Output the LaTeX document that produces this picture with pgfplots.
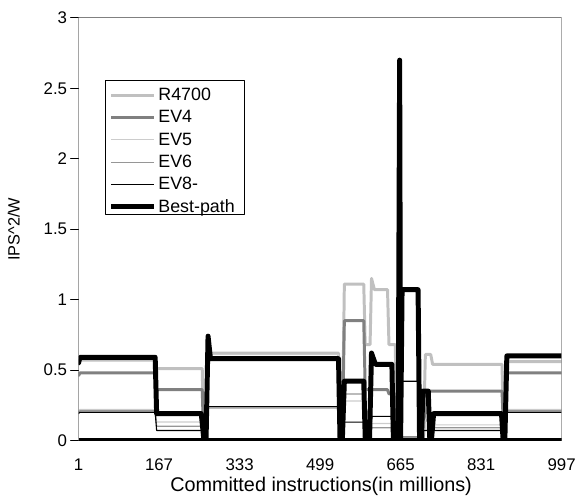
\documentclass[border=0pt]{standalone}
\usepackage{fontspec}
\setmainfont{Liberation Sans}
\usepackage{pgfplots}
\pgfplotsset{compat=1.18}
\definecolor{cR}{RGB}{192,192,192}
\definecolor{cEVf}{RGB}{128,128,128}
\definecolor{cEVv}{RGB}{204,204,204}
\definecolor{cEVs}{RGB}{150,150,150}
\definecolor{frame}{RGB}{128,128,128}
\begin{document}
\begin{tikzpicture}
\begin{axis}[
  name=ax,
  scale only axis, width=486bp, height=425bp,
  xmin=1, xmax=997, ymin=0, ymax=3,
  xtick={1,167,333,499,665,831,997},
  ytick={0,0.5,1,1.5,2,2.5,3},
  axis line style={draw=none},
  xtick pos=bottom, ytick pos=left,
  tick align=outside,
  x tick style={draw=none},
  y tick style={black, line width=0.8bp},
  major tick length=8bp,
  /pgf/number format/assume math mode=true,
  tick label style={font=\fontsize{17}{17}\selectfont},
  xticklabel style={yshift=-7bp},
  xlabel={Committed instructions(in millions)},
  xlabel style={at={(axis description cs:0.502,-0.108)}, anchor=center, font=\fontsize{20}{20}\selectfont},
  ylabel={IPS\textasciicircum 2/W},
  ylabel style={at={(axis description cs:-0.134,0.5)}, anchor=center, font=\fontsize{16.5}{16.5}\selectfont},
  legend style={at={(0.058,0.843)}, anchor=north west, draw=none, fill=none,
    font=\fontsize{18}{18}\selectfont, inner sep=2bp, row sep=5bp,
    cells={anchor=west, inner sep=0pt, text height=12bp, text depth=4bp}},
  legend cell align=left,
  legend image code/.code={\draw[#1] (0bp,0bp) -- (43bp,0bp);},
  line join=round, line cap=round,
]
\addplot[cR, line width=3bp] coordinates {
(1,0.55) (4,0.57) (159,0.57) (162,0.51) (256,0.51) (259,0.02) (264,0.02) (268,0.62)
(537,0.62) (540,0.05) (545,0.05) (549,1.11) (589,1.11) (592,0.68) (602,0.68) (605,1.15)
(611,1.07) (638,1.07) (641,0.68) (654,0.68) (657,0.02) (712,0.02) (716,0.61) (727,0.61)
(731,0.54) (874,0.54) (877,0.1) (880,0.1) (884,0.56) (997,0.56)};
\addlegendentry{R4700}
\addplot[cEVf, line width=3bp] coordinates {
(1,0.46) (4,0.48) (159,0.48) (162,0.36) (256,0.36) (259,0.02) (264,0.02) (268,0.58)
(537,0.58) (540,0.05) (545,0.05) (549,0.85) (589,0.85) (592,0.36) (638,0.36) (641,0.33)
(654,0.33) (657,0.02) (712,0.02) (716,0.35) (874,0.35) (877,0.1) (880,0.1) (884,0.48) (997,0.48)};
\addlegendentry{EV4}
\addplot[cEVv, line width=1.2bp] coordinates {
(1,0.21) (4,0.22) (159,0.22) (162,0.13) (256,0.13) (259,0.02) (264,0.02) (268,0.61)
(537,0.61) (540,0.05) (545,0.05) (549,0.28) (589,0.28) (592,0.12) (654,0.12) (657,0.02)
(712,0.02) (716,0.15) (731,0.11) (874,0.11) (877,0.1) (884,0.22) (997,0.22)};
\addlegendentry{EV5}
\addplot[cEVs, line width=1.2bp] coordinates {
(1,0.2) (4,0.21) (159,0.21) (162,0.1) (256,0.1) (259,0.02) (264,0.02) (268,0.23)
(537,0.23) (540,0.05) (549,0.33) (589,0.33) (592,0.09) (654,0.09) (657,0.02) (712,0.02)
(716,0.3) (731,0.09) (874,0.09) (877,0.08) (884,0.21) (997,0.21)};
\addlegendentry{EV6}
\addplot[black, line width=1.1bp] coordinates {
(1,0.19) (4,0.2) (159,0.2) (162,0.07) (258,0.07) (262,0.24) (537,0.24) (541,0.13)
(589,0.13) (592,0.07) (603,0.07) (606,0.17) (647,0.17) (650,0.05) (666,0.05) (668,0.42)
(701,0.42) (704,0.07) (874,0.07) (878,0.2) (997,0.2)};
\addlegendentry{EV8-}
\addplot[black, line width=5bp] coordinates {
(1,0.55) (4,0.59) (159,0.59) (162,0.19) (254,0.19) (259,0.02) (264,0.02) (268,0.74)
(273,0.58) (537,0.58) (540,0.02) (545,0.02) (549,0.42) (589,0.42) (592,0.02) (601,0.02)
(605,0.62) (613,0.54) (647,0.54) (650,0.02) (660,0.02) (663,2.7) (665,0.02) (668,1.07)
(701,1.07) (704,0.02) (708,0.02) (711,0.35) (722,0.35) (725,0.02) (729,0.02) (733,0.19)
(873,0.19) (876,0.02) (880,0.02) (884,0.6) (997,0.6)};
\addlegendentry{Best-path}
\draw[frame, line width=1bp] (rel axis cs:0,1) -- (rel axis cs:1,1) -- (rel axis cs:1,0);
\draw[black, line width=1.3bp] (rel axis cs:0,0) -- (rel axis cs:0,1);
\draw[black, line width=4bp, line cap=butt] (rel axis cs:0,0) -- (rel axis cs:1,0);
\draw[black, line width=1.2bp] (rel axis cs:0.0556,0.852) -- (rel axis cs:0.3436,0.852)
  -- (rel axis cs:0.3436,0.534) -- (rel axis cs:0.0556,0.534) -- cycle;
\end{axis}
\path ([shift={(-79bp,-52bp)}]ax.south west) rectangle ([shift={(14bp,18bp)}]ax.north east);
\end{tikzpicture}
\end{document}
